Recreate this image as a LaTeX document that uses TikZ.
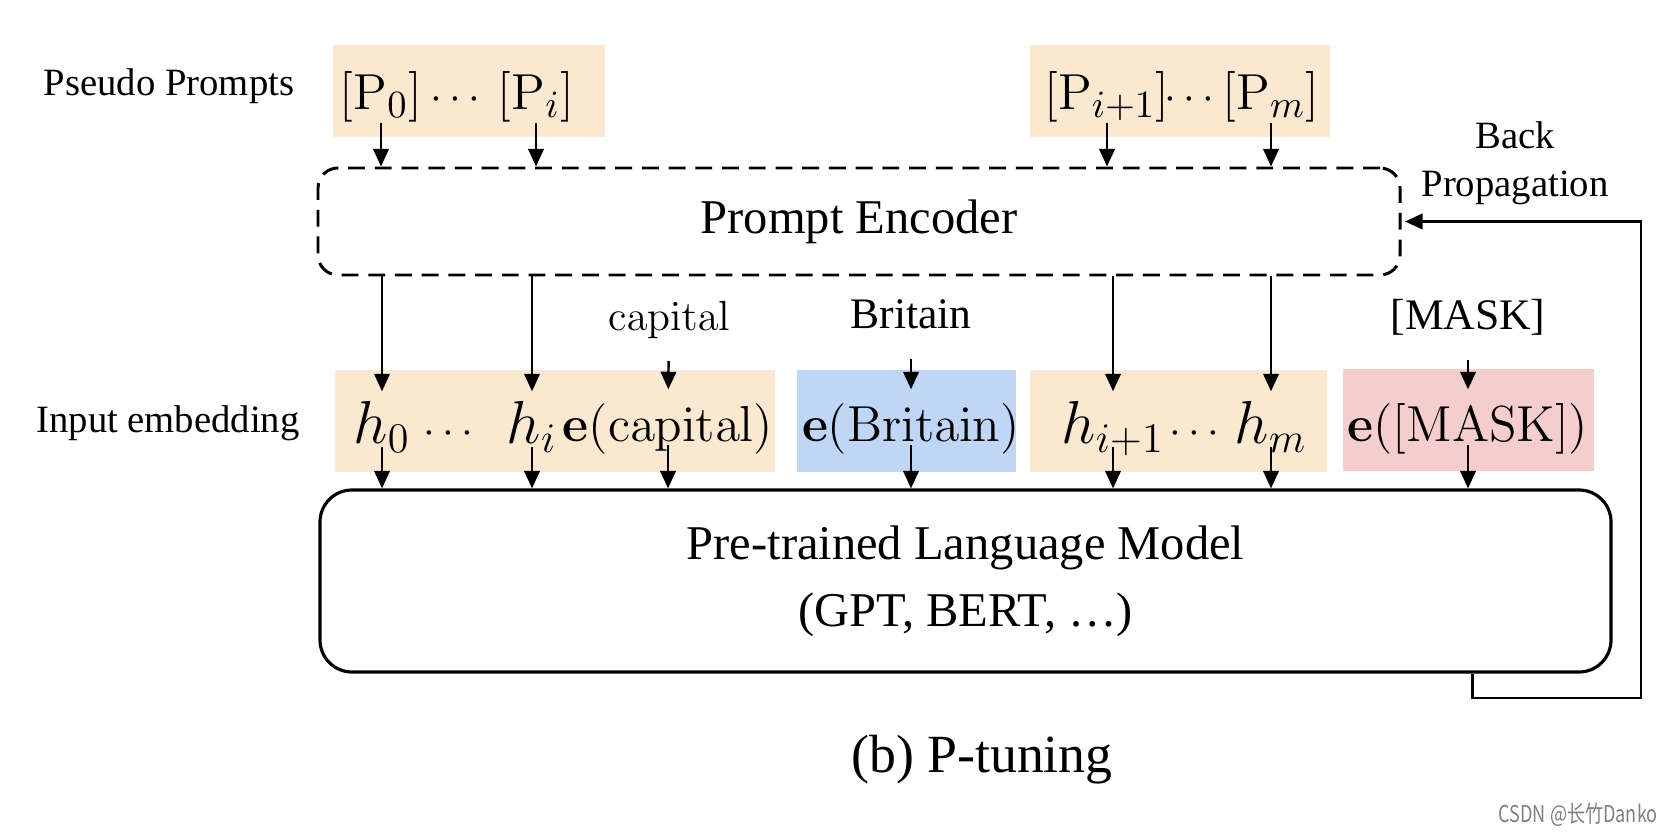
\documentclass[tikz,border=0pt]{standalone}
\usepackage{amsmath,amssymb}
\usepackage{graphicx}
\usepackage[no-math]{fontspec}
\setmainfont{Liberation Serif}
\newfontfamily\cjk{Noto Sans CJK SC}
\usepackage{xcolor}
\usepackage{tikz}
\usetikzlibrary{arrows.meta,positioning,calc}
\definecolor{arena}{HTML}{FAE8D0}
\definecolor{cielo}{HTML}{BFD6F7}
\definecolor{rosa}{HTML}{F5CDCD}
\newcommand{\fs}[1]{\fontsize{#1}{#1}\selectfont}

\begin{document}
\begin{tikzpicture}[arr/.style={-{Triangle[length=5pt,width=4.4pt]},line width=0.7pt},
  caja/.style={draw=none,inner sep=0pt,minimum height=1.02cm},
  tok/.style={anchor=base,inner sep=1pt,text height=13.5pt,text depth=0pt,font=\fs{17.5}},
  ptok/.style={anchor=base,inner sep=1pt,text height=11pt,text depth=2.5pt,font=\fs{15.3}},
  lab/.style={inner sep=1pt,font=\fontsize{11}{13.6}\selectfont},
  word/.style={inner sep=1pt,text height=9pt,text depth=2.5pt,font=\fs{12.4}}]
  \useasboundingbox (0,0) rectangle (16.78,8.34);
  % coloured backgrounds
  \node[caja,fill=arena,minimum width=2.72cm,minimum height=0.92cm] (b1) at (4.69,7.43) {};
  \node[caja,fill=arena,minimum width=3.00cm,minimum height=0.92cm] (b2) at (11.80,7.43) {};
  \node[caja,fill=arena,minimum width=4.40cm] (b3) at (5.55,4.13) {};
  \node[caja,fill=cielo,minimum width=2.19cm] (b4) at (9.065,4.13) {};
  \node[caja,fill=arena,minimum width=2.97cm] (b5) at (11.785,4.13) {};
  \node[caja,fill=rosa,minimum width=2.51cm] (b6) at (14.685,4.14) {};
  % side labels
  \node[lab] (pseudo) at (1.69,7.48) {Pseudo Prompts};
  \node[lab] (input) at (1.68,4.11) {Input embedding};
  \node[lab,align=center] (back) at (15.15,6.71) {Back\\Propagation};
  % boxes
  \node[draw,line width=0.85pt,dash pattern=on 4.8pt off 2.8pt,rounded corners=0.2cm,
    minimum width=10.82cm,minimum height=1.07cm,font=\fontsize{13.8}{16}\selectfont] (enc) at (8.59,6.125) {Prompt Encoder};
  \node[draw,line width=0.9pt,rounded corners=0.32cm,minimum width=12.91cm,minimum height=1.82cm,
    align=center,font=\fontsize{13.8}{19}\selectfont] (plm) at (9.655,2.53) {Pre-trained Language Model\\(GPT, BERT, \ldots)};
  % pseudo prompt tokens
  \node[ptok] (p0) at (3.81,7.24) {$[\mathrm{P}_0]$};
  \node[ptok,font=\fs{12}] (pd) at (4.59,7.24) {$\cdots$};
  \node[ptok] (pi) at (5.36,7.24) {$[\mathrm{P}_i]$};
  \node[ptok] (pj) at (11.07,7.24) {$[\mathrm{P}_{i+1}]$};
  \node[ptok,font=\fs{11.5}] (pd2) at (11.93,7.24) {$\cdots$};
  \node[ptok] (pm) at (12.71,7.24) {$[\mathrm{P}_m]$};
  % input embeddings
  \node[tok] (h0) at (3.82,3.91) {$h_0$};
  \node[tok,font=\fs{13}] (hd) at (4.52,3.91) {$\cdots$};
  \node[tok] (hi) at (5.32,3.91) {$h_i$};
  \node[tok,font=\fs{15.5}] (ecap) at (6.68,3.93) {$\mathbf{e}(\mathrm{capital})$};
  \node[tok,font=\fs{13.7}] (ebri) at (9.11,3.93) {$\mathbf{e}(\mathrm{Britain})$};
  \node[tok] (hj) at (11.13,3.91) {$h_{i+1}$};
  \node[tok,font=\fs{12}] (hd2) at (11.98,3.91) {$\cdots$};
  \node[tok] (hm) at (12.71,3.91) {$h_m$};
  \node[tok,font=\fs{14.1}] (emask) at (14.68,3.93) {$\mathbf{e}([\mathrm{MASK}])$};
  % words
  \node[word,font=\fs{11.8}] (wcap) at (6.69,5.15) {$\mathrm{capital}$};
  \node[word] (wbri) at (9.11,5.17) {Britain};
  \node[word] (wmask) at (14.68,5.16) {[MASK]};
  % arrows
  \foreach \t in {p0,pi,pj,pm} \draw[arr] (\t) -- (\t |- enc.north);
  \foreach \t in {h0,hi,hj,hm} \draw[arr] (enc.south -| \t) -- (\t);
  \foreach \w/\t in {wcap/ecap,wbri/ebri,wmask/emask} \draw[arr,shorten <=5pt] (\w) -- (\t);
  \foreach \t in {h0,hi,ecap,ebri,hj,hm,emask} \draw[arr] (\t) -- (\t |- plm.north);
  \coordinate (bp) at (16.41,1.36);
  \draw[arr] ([xshift=-1.40cm]plm.south east) |- (bp) |- ([xshift=1pt]enc.east);
  % caption
  \node[font=\fontsize{15.3}{18}\selectfont] (cap) at (9.82,0.74) {(b) P-tuning};
  \node[anchor=east,font=\cjk\fs{6.6},text=gray] (wm) at (16.70,0.19) {\scalebox{0.78}[1]{CSDN @长竹Danko}};
\end{tikzpicture}
\end{document}
